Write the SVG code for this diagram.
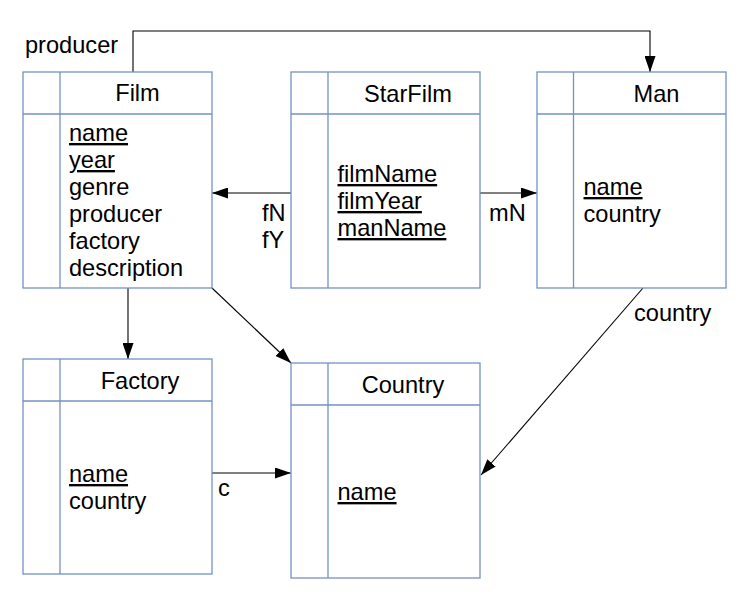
<svg xmlns="http://www.w3.org/2000/svg" width="751" height="612" viewBox="0 0 751 612">
<defs>
<marker id="ah" markerUnits="userSpaceOnUse" markerWidth="16" markerHeight="11" refX="16" refY="5.5" orient="auto">
<path d="M0,0 L16,5.5 L0,11 Z" fill="#000"/>
</marker>
</defs>
<style>
.box{fill:#fff;stroke:#7391c3;stroke-width:1.3}
.ln{stroke:#7391c3;stroke-width:1.3}
text{font-family:"Liberation Sans",Arial,sans-serif;font-size:23.6px;fill:#000}
.h{text-anchor:middle}
.u{text-decoration:underline}
.c{fill:none;stroke:#000;stroke-width:1.1}
</style>
<rect width="751" height="612" fill="#fff"/>
<g id="connectors">
<polyline class="c" points="133,72 133,31 650,31 650,72" marker-end="url(#ah)"/>
<line class="c" x1="291" y1="193" x2="212" y2="193" marker-end="url(#ah)"/>
<line class="c" x1="480" y1="193" x2="537" y2="193" marker-end="url(#ah)"/>
<line class="c" x1="128" y1="288" x2="128" y2="359" marker-end="url(#ah)"/>
<line class="c" x1="212" y1="288" x2="291" y2="363" marker-end="url(#ah)"/>
<line class="c" x1="212" y1="473" x2="291" y2="473" marker-end="url(#ah)"/>
<line class="c" x1="643" y1="288" x2="481" y2="475" marker-end="url(#ah)"/>
<text x="25" y="53">producer</text>
<text x="262" y="221">fN</text>
<text x="262" y="248">fY</text>
<text x="489" y="221">mN</text>
<text x="218" y="496">c</text>
<text x="634" y="321">country</text>
</g>
<g id="Film">
<rect class="box" x="23" y="72" width="189" height="216"/>
<line class="ln" x1="60" y1="72" x2="60" y2="288"/>
<line class="ln" x1="23" y1="114" x2="212" y2="114"/>
<text class="h" x="137.5" y="101">Film</text>
<text x="69" y="141" class="u">name</text>
<text x="69" y="168" class="u">year</text>
<text x="69" y="195">genre</text>
<text x="69" y="222">producer</text>
<text x="69" y="249">factory</text>
<text x="69" y="276">description</text>
</g>
<g id="StarFilm">
<rect class="box" x="291" y="72" width="189" height="216"/>
<line class="ln" x1="328" y1="72" x2="328" y2="288"/>
<line class="ln" x1="291" y1="114" x2="480" y2="114"/>
<text class="h" x="408" y="102">StarFilm</text>
<text x="337.5" y="182" class="u">filmName</text>
<text x="337.5" y="209" class="u">filmYear</text>
<text x="337.5" y="236" class="u">manName</text>
</g>
<g id="Man">
<rect class="box" x="537" y="72" width="189" height="216"/>
<line class="ln" x1="573.5" y1="72" x2="573.5" y2="288"/>
<line class="ln" x1="537" y1="114" x2="726" y2="114"/>
<text class="h" x="656.5" y="102">Man</text>
<text x="583.5" y="195" class="u">name</text>
<text x="583.5" y="222">country</text>
</g>
<g id="Factory">
<rect class="box" x="23" y="359" width="189" height="215"/>
<line class="ln" x1="60" y1="359" x2="60" y2="574"/>
<line class="ln" x1="23" y1="401" x2="212" y2="401"/>
<text class="h" x="140" y="389">Factory</text>
<text x="69" y="482" class="u">name</text>
<text x="69" y="509">country</text>
</g>
<g id="Country">
<rect class="box" x="291" y="363" width="189" height="215"/>
<line class="ln" x1="328" y1="363" x2="328" y2="578"/>
<line class="ln" x1="291" y1="405" x2="480" y2="405"/>
<text class="h" x="403" y="393">Country</text>
<text x="337.5" y="500" class="u">name</text>
</g>
</svg>
